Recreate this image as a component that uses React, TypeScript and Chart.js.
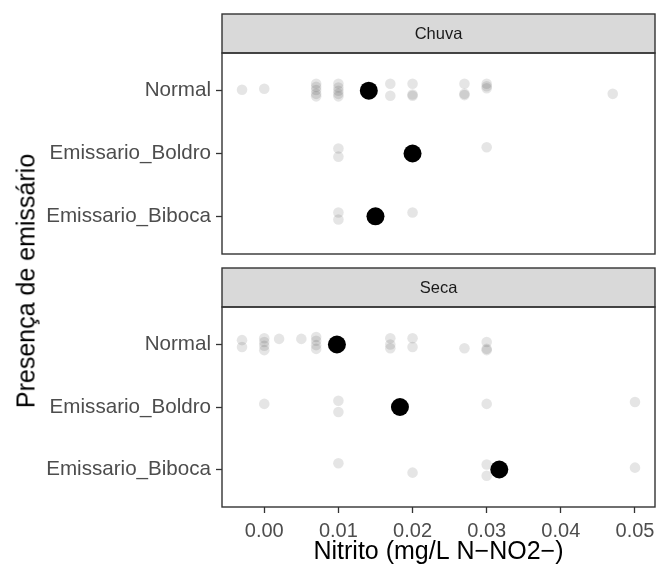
import React, { useEffect, useRef } from 'react';
import { Chart, registerables } from 'chart.js';

Chart.register(...registerables);

const FONT = "'Liberation Sans', Arial, Helvetica, sans-serif";

// Categories on the y axis (top to bottom) and x tick values
const categories = ['Normal', 'Emissario_Boldro', 'Emissario_Biboca'];
const xTicks = [0, 0.01, 0.02, 0.03, 0.04, 0.05];
const xMin = -0.0057;
const xMax = 0.0527;

// Chuva — individual observations (x) and their vertical jitter (category units)
const chuvaNormalX = [-0.003, 0.0, 0.007, 0.007, 0.007, 0.007, 0.007, 0.01, 0.01, 0.01, 0.01, 0.01, 0.017, 0.017, 0.02, 0.02, 0.02, 0.027, 0.027, 0.027, 0.03, 0.03, 0.03, 0.047];
const chuvaNormalJitter = [-0.016, -0.03, -0.11, -0.06, -0.01, 0.05, 0.09, -0.11, -0.05, 0.0, 0.05, 0.09, -0.11, 0.08, -0.11, 0.06, 0.08, -0.11, 0.05, 0.07, -0.11, -0.07, -0.04, 0.05];
const chuvaBoldroX = [0.01, 0.01, 0.03];
const chuvaBoldroJitter = [-0.08, 0.05, -0.1];
const chuvaBibocaX = [0.01, 0.01, 0.02];
const chuvaBibocaJitter = [-0.06, 0.05, -0.06];
const chuvaMeans = [0.0141, 0.02, 0.015];

// Seca — individual observations (x) and their vertical jitter (category units)
const secaNormalX = [-0.003, -0.003, 0.0, 0.0, 0.0, 0.0, 0.002, 0.005, 0.007, 0.007, 0.007, 0.007, 0.017, 0.017, 0.017, 0.02, 0.02, 0.027, 0.03, 0.03, 0.03];
const secaNormalJitter = [-0.07, 0.04, -0.1, -0.04, 0.02, 0.09, -0.09, -0.09, -0.12, -0.06, 0.01, 0.07, -0.1, 0.0, 0.06, -0.1, 0.04, 0.06, -0.04, 0.07, 0.09];
const secaBoldroX = [0.0, 0.01, 0.01, 0.03, 0.05];
const secaBoldroJitter = [-0.05, -0.1, 0.08, -0.05, -0.08];
const secaBibocaX = [0.01, 0.02, 0.03, 0.03, 0.05];
const secaBibocaJitter = [-0.1, 0.05, -0.08, 0.1, -0.03];
const secaMeans = [0.0098, 0.0183, 0.0317];

type Pt = { x: number; y: number };

function toPoints(groups: [number[], number[]][]): Pt[] {
  const pts: Pt[] = [];
  groups.forEach(([xs, js], i) => {
    xs.forEach((x, k) => pts.push({ x, y: i + 1 + js[k] }));
  });
  return pts;
}

function meanPoints(means: number[]): Pt[] {
  return means.map((x, i) => ({ x, y: i + 1 }));
}

// Draws the facet strip above the panel and the panel border
const facetPlugin = {
  id: 'facet',
  afterDraw(chart: any, _args: any, opts: any) {
    const { ctx, chartArea } = chart;
    const { left, right, top, bottom } = chartArea;
    ctx.save();
    ctx.fillStyle = '#d9d9d9';
    ctx.fillRect(left, opts.stripTop, right - left, top - opts.stripTop);
    ctx.strokeStyle = '#333333';
    ctx.lineWidth = 1.4;
    ctx.strokeRect(left, opts.stripTop, right - left, top - opts.stripTop);
    ctx.strokeRect(left, top, right - left, bottom - top);
    ctx.fillStyle = '#1a1a1a';
    ctx.font = `16.5px ${FONT}`;
    ctx.textAlign = 'center';
    ctx.textBaseline = 'middle';
    ctx.fillText(opts.label, (left + right) / 2, (opts.stripTop + top) / 2 + 1);
    ctx.restore();
  },
};

function makeConfig(
  label: string,
  points: Pt[],
  means: number[],
  showX: boolean,
  padTop: number,
  padBottom: number,
  stripTop: number
): any {
  return {
    type: 'scatter',
    data: {
      datasets: [
        {
          data: meanPoints(means),
          backgroundColor: '#000000',
          borderWidth: 0,
          pointRadius: 9,
          order: 0,
        },
        {
          data: points,
          backgroundColor: 'rgba(0,0,0,0.1)',
          borderWidth: 0,
          pointRadius: 5.3,
          order: 1,
        },
      ],
    },
    options: {
      responsive: false,
      animation: false,
      devicePixelRatio: 1,
      layout: { autoPadding: false, padding: { top: padTop, bottom: padBottom, left: 0, right: 1 } },
      plugins: {
        legend: { display: false },
        tooltip: { enabled: false },
        facet: { label, stripTop },
      },
      scales: {
        x: {
          type: 'linear',
          display: showX,
          min: xMin,
          max: xMax,
          afterBuildTicks: (s: any) => {
            s.ticks = xTicks.map((v) => ({ value: v }));
          },
          afterFit: (s: any) => {
            s.height = showX ? 60 : 0;
            s.paddingLeft = 0;
            s.paddingRight = 0;
          },
          ticks: {
            callback: (v: any) => Number(v).toFixed(2),
            color: '#4d4d4d',
            font: { size: 20, family: FONT },
            padding: 6,
            maxRotation: 0,
            autoSkip: false,
          },
          grid: { drawOnChartArea: false, drawTicks: true, tickLength: 6, tickColor: '#333333', tickWidth: 1.3 },
          border: { display: false },
          title: {
            display: true,
            text: 'Nitrito (mg/L N\u2212NO2\u2212)',
            color: '#000000',
            font: { size: 25, family: FONT },
            padding: { top: 0, bottom: 0 },
          },
        },
        y: {
          type: 'linear',
          min: 0.4,
          max: 3.6,
          reverse: true,
          afterBuildTicks: (s: any) => {
            s.ticks = [1, 2, 3].map((v) => ({ value: v }));
          },
          afterFit: (s: any) => {
            s.width = 222;
            s.paddingTop = 0;
            s.paddingBottom = 0;
          },
          ticks: {
            callback: (v: any) => categories[Math.round(Number(v)) - 1],
            color: '#4d4d4d',
            font: { size: 20.6, family: FONT },
            padding: 5,
            autoSkip: false,
          },
          grid: { drawOnChartArea: false, drawTicks: true, tickLength: 6, tickColor: '#333333', tickWidth: 1.3 },
          border: { display: false },
        },
      },
    },
    plugins: [facetPlugin],
  };
}

function Panel(props: { config: any; top: number; height: number }) {
  const ref = useRef<HTMLCanvasElement | null>(null);
  useEffect(() => {
    if (!ref.current) return;
    const chart = new Chart(ref.current, props.config);
    return () => chart.destroy();
  }, []);
  return (
    <canvas
      ref={ref}
      width={656}
      height={props.height}
      style={{ position: 'absolute', left: 0, top: props.top, width: 656, height: props.height }}
    />
  );
}

export default function App() {
  const chuvaPts = toPoints([
    [chuvaNormalX, chuvaNormalJitter],
    [chuvaBoldroX, chuvaBoldroJitter],
    [chuvaBibocaX, chuvaBibocaJitter],
  ]);
  const secaPts = toPoints([
    [secaNormalX, secaNormalJitter],
    [secaBoldroX, secaBoldroJitter],
    [secaBibocaX, secaBibocaJitter],
  ]);
  const topCfg = makeConfig('Chuva', chuvaPts, chuvaMeans, false, 53, 8, 14);
  const bottomCfg = makeConfig('Seca', secaPts, secaMeans, true, 45, 0, 6);
  return (
    <div style={{ position: 'absolute', left: 0, top: 0, width: 656, height: 567, background: '#ffffff', overflow: 'hidden' }}>
      <Panel config={topCfg} top={0} height={262} />
      <Panel config={bottomCfg} top={262} height={305} />
      <div
        style={{
          position: 'absolute',
          left: 26,
          top: 281,
          transform: 'translate(-50%, -50%) rotate(-90deg)',
          whiteSpace: 'nowrap',
          fontFamily: FONT,
          fontSize: 25,
          lineHeight: 1,
          color: '#000000',
        }}
      >
        Presença de emissário
      </div>
    </div>
  );
}
